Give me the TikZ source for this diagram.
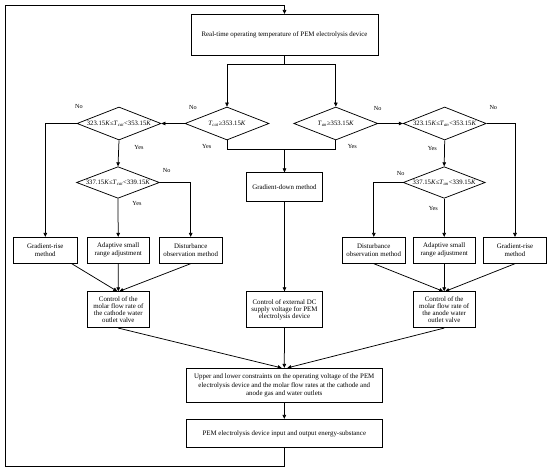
\documentclass[tikz,border=0pt]{standalone}
\usepackage{fontspec}
\setmainfont{Liberation Serif}
\usetikzlibrary{shapes.geometric,arrows.meta}
\begin{document}
\begin{tikzpicture}[x=1pt,y=-1pt,
  box/.style={draw,line width=0.75pt,inner sep=0pt,align=center,font=\fontsize{6.9}{7.1}\selectfont},
  dia/.style={draw,shape=diamond,line width=0.75pt,inner sep=0pt,minimum width=84pt,minimum height=33pt},
  dtext/.style={inner sep=0pt,font=\fontsize{6.7}{7}\selectfont},
  lbl/.style={inner sep=0pt,font=\fontsize{6.2}{7}\selectfont},
  arr/.style={-{Triangle[length=4pt,width=3.6pt]},line width=0.75pt},
  ln/.style={line width=0.75pt}]
\useasboundingbox[fill=white] (0,0) rectangle (550,473);

% boxes
\node[box,minimum width=187pt,minimum height=41pt] (top) at (284.5,34.8) {Real-time operating temperature of PEM electrolysis device};
\node[box,minimum width=76pt,minimum height=28.3pt] (gd) at (284.5,186.9) {Gradient-down method};

\node[box,minimum width=64pt,minimum height=26pt,font=\fontsize{6.9}{8}\selectfont] (grl) at (45.3,250.3) {Gradient-rise\\method};
\node[box,minimum width=61.7pt,minimum height=26pt,font=\fontsize{6.9}{8}\selectfont] (adl) at (118.2,250.3) {Adaptive small\\range adjustment};
\node[box,minimum width=62.7pt,minimum height=26pt,font=\fontsize{6.9}{8}\selectfont] (dol) at (190.7,250.3) {Disturbance\\observation method};

\node[box,minimum width=62.3pt,minimum height=26pt,font=\fontsize{6.9}{8}\selectfont] (dor) at (373.8,250.3) {Disturbance\\observation method};
\node[box,minimum width=61.7pt,minimum height=26pt,font=\fontsize{6.9}{8}\selectfont] (adr) at (444.2,250.3) {Adaptive small\\range adjustment};
\node[box,minimum width=63.4pt,minimum height=26pt,font=\fontsize{6.9}{8}\selectfont] (grr) at (515,250.3) {Gradient-rise\\method};

\node[box,minimum width=62pt,minimum height=36pt] (cc) at (118.3,309.7) {Control of the\\molar flow rate of\\the cathode water\\outlet valve};
\node[box,minimum width=76pt,minimum height=36pt] (dc) at (284.5,309.7) {Control of external DC\\supply voltage for PEM\\electrolysis device};
\node[box,minimum width=62pt,minimum height=36pt] (ac) at (444.2,309.7) {Control of the\\molar flow rate of\\the anode water\\outlet valve};

\node[box,minimum width=196.5pt,minimum height=34.4pt,font=\fontsize{6.9}{8.6}\selectfont] (up) at (284.3,385.5) {Upper and lower constraints on the operating voltage of the PEM\\electrolysis device and the molar flow rates at the cathode and\\anode gas and water outlets};
\node[box,minimum width=196.5pt,minimum height=28.4pt] (bot) at (284.3,433.5) {PEM electrolysis device input and output energy-substance};

% diamonds
\node[dia] (t1) at (227,123.5) {};
\node[dtext] (t1t) at (t1) {\textit{T}\textsubscript{\textit{cat}}≥353.15\textit{K}};
\node[dia] (t2) at (335.8,123.5) {};
\node[dtext] (t2t) at (t2) {\textit{T}\textsubscript{\textit{an}}≥353.15\textit{K}};
\node[dia] (l1) at (119,123.5) {};
\node[dtext] (l1t) at (l1) {323.15\textit{K}≤\textit{T}\textsubscript{\textit{cat}}<353.15\textit{K}};
\node[dia,minimum width=83pt,minimum height=31.6pt] (l2) at (118,182.5) {};
\node[dtext] (l2t) at (l2) {337.15\textit{K}≤\textit{T}\textsubscript{\textit{cat}}<339.15\textit{K}};
\node[dia,minimum width=83pt] (r1) at (444.7,123.5) {};
\node[dtext] (r1t) at (r1) {323.15\textit{K}≤\textit{T}\textsubscript{\textit{an}}<353.15\textit{K}};
\node[dia,minimum width=82pt,minimum height=31.6pt] (r2) at (444.2,182.5) {};
\node[dtext] (r2t) at (r2) {337.15\textit{K}≤\textit{T}\textsubscript{\textit{an}}<339.15\textit{K}};

% coordinates
\coordinate (sp) at (284.5,64.3);
\coordinate (ym) at (284.5,149.3);
\coordinate (fb1) at (5.3,466.7);
\coordinate (fb2) at (5.3,5);

% connectors
\draw[ln] (top.south) -- (sp);
\draw[arr] (sp) -| (t1.north);
\draw[arr] (sp) -| (t2.north);
\draw[arr] (t1.west) -- (l1.east);
\draw[arr] (t2.east) -- (r1.west);
\draw[ln] (t1.south) |- (ym);
\draw[ln] (t2.south) |- (ym);
\draw[arr] (ym) -- (gd.north);
\draw[arr] (l1.west) -| (grl.north);
\draw[arr] (l1.south) -- (l2.north);
\draw[arr] (l2.east) -| (dol.north);
\draw[arr] (l2.south) -- (adl.north);
\draw[arr] (r1.east) -| (grr.north);
\draw[arr] (r1.south) -- (r2.north);
\draw[arr] (r2.west) -| (dor.north);
\draw[arr] (r2.south) -- (adr.north);
\draw[arr] (gd.south) -- (dc.north);

\draw[arr] ([xshift=26.4pt]grl.south) -- ([xshift=-1pt]cc.north);
\draw[arr] (adl.south) -- (cc.north);
\draw[arr] (dol.south) -- ([xshift=1pt]cc.north);
\draw[arr] (dor.south) -- ([xshift=-1pt]ac.north);
\draw[arr] (adr.south) -- (ac.north);
\draw[arr] (grr.south) -- ([xshift=1pt]ac.north);

\draw[arr] (cc.south) -- ([xshift=-2.6pt]up.north);
\draw[arr] (dc.south) -- (up.north);
\draw[arr] (ac.south) -- ([xshift=3pt]up.north);
\draw[arr] (up.south) -- (bot.north);
\draw[arr] (bot.south) |- (fb1) -- (fb2) -| (top.north);

% labels
\node[lbl] (n1) at (79,107) {No};
\node[lbl] (n2) at (193,108) {No};
\node[lbl] (y1) at (206.7,146.7) {Yes};
\node[lbl] (y2) at (139,147.3) {Yes};
\node[lbl] (n3) at (166.7,170.7) {No};
\node[lbl] (y3) at (137,203.3) {Yes};
\node[lbl] (n4) at (377.7,108.3) {No};
\node[lbl] (y4) at (352.3,146.7) {Yes};
\node[lbl] (n5) at (493.3,108) {No};
\node[lbl] (y5) at (432.3,149) {Yes};
\node[lbl] (n6) at (400.7,174) {No};
\node[lbl] (y6) at (433.3,208.3) {Yes};
\end{tikzpicture}
\end{document}
